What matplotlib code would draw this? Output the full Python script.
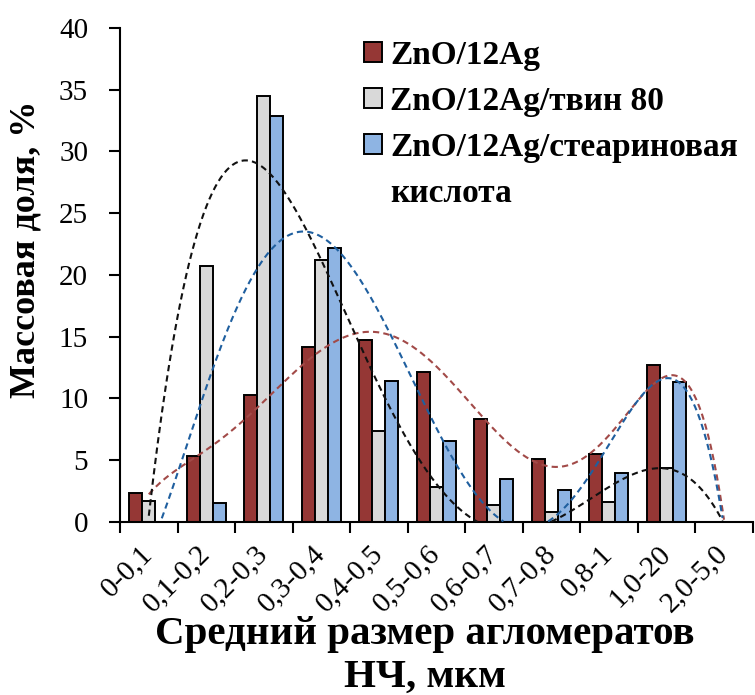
import numpy as np
import matplotlib.pyplot as plt
from matplotlib.patches import Patch

plt.rcParams['font.family'] = ['Liberation Serif', 'DejaVu Serif']

# size classes of agglomerates, um
categories = ['0-0,1', '0,1-0,2', '0,2-0,3', '0,3-0,4', '0,4-0,5', '0,5-0,6',
              '0,6-0,7', '0,7-0,8', '0,8-1', '1,0-20', '2,0-5,0']
# mass fraction, %
zno_ag = [2.35, 5.35, 10.3, 14.2, 14.7, 12.15, 8.3, 5.1, 5.5, 12.7, 0]
zno_ag_tween = [1.7, 20.7, 34.5, 21.2, 7.4, 2.85, 1.35, 0.8, 1.6, 4.35, 0]
zno_ag_stearic = [0, 1.5, 32.9, 22.2, 11.4, 6.55, 3.45, 2.6, 3.95, 11.35, 0]
# the last label wraps onto a second legend row, square beside the first line
labels = ['ZnO/12Ag', 'ZnO/12Ag/твин 80', 'ZnO/12Ag/стеариновая', 'кислота']
# polynomial trendline order for each series
trend_order = [6, 5, 5]

bar_colors = ['#953735', '#D9D9D9', '#8EB4E3']
trend_colors = ['#A24A48', '#111111', '#1F5F9F']

fig = plt.figure(figsize=(7.55, 6.95), dpi=100)
ax = fig.add_axes([0.159, 0.249, 0.838, 0.711])

x = np.arange(len(categories))
w = 0.226
series = [zno_ag, zno_ag_tween, zno_ag_stearic]
for i, vals in enumerate(series):
    ax.bar(x + (i - 1) * w, vals, width=w, color=bar_colors[i],
           edgecolor='black', linewidth=1.4, zorder=2)

# polynomial trendlines, as in the original spreadsheet chart
xs = np.linspace(0, len(categories) - 1, 400)
for vals, c, deg in zip(series, trend_colors, trend_order):
    p = np.polyfit(x, vals, deg)
    ys = np.polyval(p, xs)
    ys = np.where(ys < 0, np.nan, ys)
    ax.plot(xs, ys, ls=(0, (3, 2)), color=c, lw=1.5, zorder=3)

ax.set_xlim(-0.5, len(categories) - 0.5)
ax.set_ylim(0, 40)
ax.set_yticks(range(0, 41, 5))
ax.set_xticks(np.arange(len(categories) + 1) - 0.5)
ax.set_xticklabels([])
ax.set_xticks(x, minor=True)
ax.set_xticklabels(categories, minor=True, rotation=45, ha='right', va='center',
                   rotation_mode='anchor', fontsize=21)
ax.tick_params(axis='x', which='minor', length=0, pad=20)
ax.tick_params(axis='x', which='major', length=8, width=1.5, direction='out')
ax.tick_params(axis='y', length=8, width=1.5, labelsize=21, pad=15)
for s in ['top', 'right']:
    ax.spines[s].set_visible(False)
for s in ['left', 'bottom']:
    ax.spines[s].set_linewidth(1.5)

ax.set_ylabel('Массовая доля, %', fontsize=26, fontweight='bold')
ax.yaxis.set_label_coords(-0.123, 0.552)
fig.text(0.563, 0.074, 'Средний размер агломератов', ha='center',
         va='baseline', fontsize=29.5, fontweight='bold')
fig.text(0.563, 0.012, 'НЧ, мкм', ha='center', va='baseline',
         fontsize=29.5, fontweight='bold')

handles = [Patch(facecolor=c, edgecolor='black', linewidth=1.4) for c in bar_colors]
handles.append(Patch(facecolor='none', edgecolor='none'))
leg = ax.legend(handles, labels, loc='upper left', bbox_to_anchor=(0.386, 0.976),
                frameon=False, prop={'weight': 'bold', 'size': 24},
                handlelength=0.52, handleheight=0.52, handletextpad=0.25,
                labelspacing=0.45, borderpad=0, borderaxespad=0)

fig.savefig('out.png', dpi=100)
